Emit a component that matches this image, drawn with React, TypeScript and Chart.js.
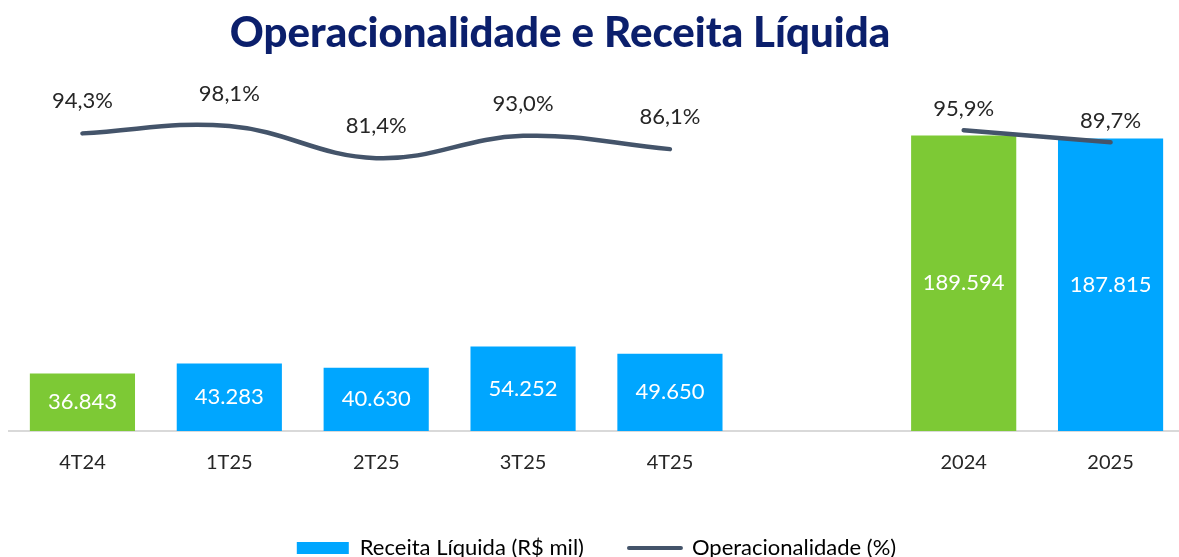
import { useEffect, useRef } from 'react';
import { Chart, registerables } from 'chart.js';

Chart.register(...registerables);

const categories = ['4T24', '1T25', '2T25', '3T25', '4T25', '', '2024', '2025'];
const receita = [36843, 43283, 40630, 54252, 49650, null, 189594, 187815];
const operacionalidade = [94.3, 98.1, 81.4, 93.0, 86.1, null, 95.9, 89.7];
const greenCategories = ['4T24', '2024'];
const annualCategories = ['2024', '2025'];
const titleText = 'Operacionalidade e Receita Líquida';
const receitaLabel = 'Receita Líquida (R$ mil)';
const operLabel = 'Operacionalidade (%)';
const barAxisMax = 228500;
const lineAxisMin = -60.7;
const lineAxisMax = 124.7;

const BLUE = '#00A6FF';
const GREEN = '#7DC935';
const LINE = '#44546A';
const NAVY = '#0B1F6C';
const FONT = 'Lato';

const fmtThousands = (v: number) => String(v).replace(/\B(?=(\d{3})+(?!\d))/g, '.');
const fmtPct = (v: number) => v.toFixed(1).replace('.', ',') + '%';

const valueLabels = {
  id: 'valueLabels',
  afterDatasetsDraw(chart: any) {
    const ctx = chart.ctx;
    ctx.save();
    chart.data.datasets.forEach((ds: any, di: number) => {
      const meta = chart.getDatasetMeta(di);
      meta.data.forEach((el: any, i: number) => {
        const v = ds.data[i];
        if (v == null) return;
        ctx.textAlign = 'center';
        ctx.textBaseline = 'middle';
        if (ds.type === 'bar') {
          ctx.font = `22px ${FONT}`;
          ctx.fillStyle = '#FFFFFF';
          ctx.fillText(fmtThousands(v), el.x, (el.y + el.base) / 2);
        } else {
          const annual = annualCategories.includes(categories[i]);
          ctx.font = `22px ${FONT}`;
          ctx.fillStyle = '#262626';
          ctx.fillText(fmtPct(v), el.x, el.y - (annual ? 21 : 32));
        }
      });
    });
    ctx.restore();
  },
};

const titlePlugin = {
  id: 'customTitle',
  afterDraw(chart: any) {
    const ctx = chart.ctx;
    ctx.save();
    ctx.font = `900 42px ${FONT}`;
    ctx.fillStyle = NAVY;
    ctx.textAlign = 'center';
    ctx.textBaseline = 'middle';
    ctx.fillText(titleText, 560, 33);
    ctx.restore();
  },
};

export default function App() {
  const ref = useRef<HTMLCanvasElement | null>(null);

  useEffect(() => {
    document.body.style.margin = '0';
    document.body.style.overflow = 'hidden';
    document.documentElement.style.overflow = 'hidden';
    if (!ref.current) return;
    const barColors = categories.map((c) => (greenCategories.includes(c) ? GREEN : BLUE));
    const chart = new Chart(ref.current, {
      type: 'bar',
      data: {
        labels: categories,
        datasets: [
          {
            type: 'line',
            label: operLabel,
            data: operacionalidade as any,
            yAxisID: 'y1',
            borderColor: LINE,
            backgroundColor: LINE,
            borderWidth: 4.5,
            borderCapStyle: 'round',
            pointRadius: 0,
            pointHoverRadius: 0,
            tension: 0.4,
            spanGaps: false,
            order: 0,
          } as any,
          {
            type: 'bar',
            label: receitaLabel,
            data: receita as any,
            yAxisID: 'y',
            backgroundColor: barColors,
            borderWidth: 0,
            barPercentage: 0.716,
            categoryPercentage: 1,
            order: 1,
          } as any,
        ],
      },
      options: {
        animation: false,
        responsive: true,
        maintainAspectRatio: false,
        layout: { padding: { top: 75, left: 9, right: 0, bottom: -12 } },
        font: { family: FONT } as any,
        plugins: {
          title: { display: false },
          tooltip: { enabled: false },
          legend: {
            position: 'bottom',
            onClick: () => {},
            labels: {
              usePointStyle: true,
              pointStyleWidth: 52,
              boxHeight: 12,
              padding: 45,
              color: '#666666',
              font: { size: 22, family: FONT },
              generateLabels: () => [
                {
                  text: receitaLabel,
                  fillStyle: BLUE,
                  strokeStyle: BLUE,
                  lineWidth: 0,
                  pointStyle: 'rect',
                  hidden: false,
                  datasetIndex: 1,
                } as any,
                {
                  text: operLabel,
                  fillStyle: LINE,
                  strokeStyle: LINE,
                  lineWidth: 4,
                  lineCap: 'round',
                  pointStyle: 'line',
                  hidden: false,
                  datasetIndex: 0,
                } as any,
              ],
            },
          },
        },
        scales: {
          x: {
            offset: true,
            grid: { display: false, drawTicks: false },
            border: { display: true, color: '#D9D9D9', width: 2 },
            ticks: {
              color: '#262626',
              font: { size: 20, family: FONT },
              padding: 20,
              maxRotation: 0,
              autoSkip: false,
            },
            afterFit: (s: any) => {
              s.height = 61;
            },
          },
          y: { display: false, min: 0, max: barAxisMax },
          y1: { display: false, min: lineAxisMin, max: lineAxisMax },
        },
      },
      plugins: [valueLabels, titlePlugin],
    });
    return () => chart.destroy();
  }, []);

  return (
    <div style={{ position: 'relative', width: '1184px', height: '557px' }}>
      <canvas ref={ref} />
    </div>
  );
}
